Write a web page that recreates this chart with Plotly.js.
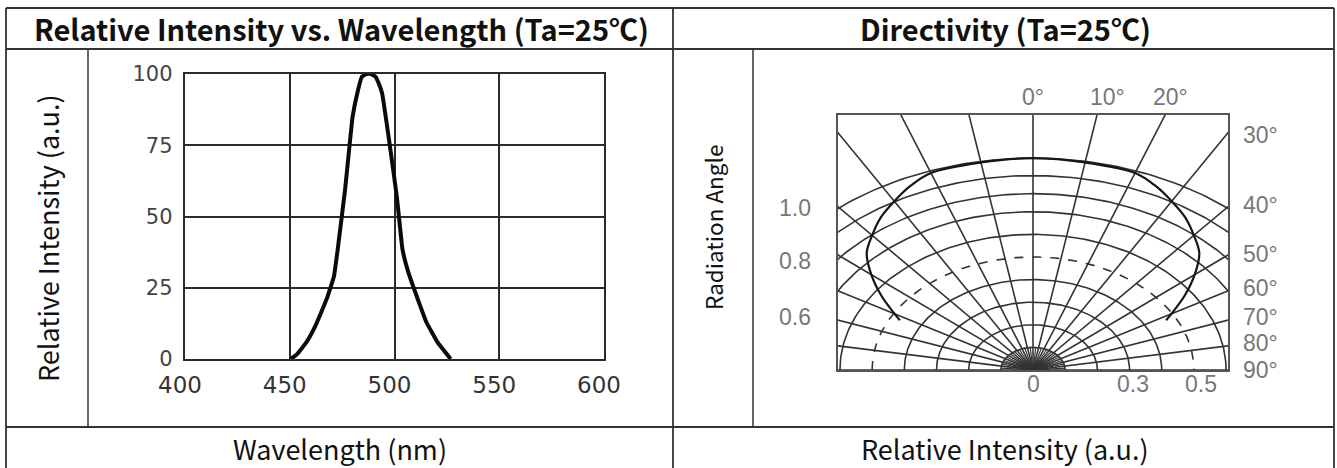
<!DOCTYPE html>
<html>
<head>
<meta charset="utf-8">
<script src="https://cdn.plot.ly/plotly-3.0.1.min.js"></script>
<style>html,body{margin:0;padding:0;background:#fff;}#chart{width:1337px;height:468px;}</style>
</head>
<body>
<div id="chart"></div>
<script>
// ---------- Spectrum data (Relative Intensity vs. Wavelength) ----------
const wavelength = [450.5, 453.5, 457.9, 462.3, 467.6, 471.1, 472.9, 476.4, 480.0, 482.6, 484.4, 486.5, 488.8, 491.0, 492.3, 494.1, 497.6, 501.1, 503.8, 506.4, 511.7, 515.3, 520.6, 526.8];
const spectrumIntensity = [0, 1.7, 5.8, 11.7, 21, 29, 38.5, 59.4, 85, 94.4, 99, 100, 100, 99, 97, 93.2, 75.8, 57, 38.5, 30.9, 19.8, 12.8, 5.8, 0];
const wavelengthTicks = [400, 450, 500, 550, 600];
const intensityTicks = [0, 25, 50, 75, 100];

// ---------- Directivity data ----------
const patternAngle = [0, 10, 20, 25, 30, 35, 40, 45, 50, 55, 60, 62];
const patternRel = [1.0, 0.995, 0.99, 0.96, 0.92, 0.88, 0.83, 0.78, 0.70, 0.615, 0.53, 0.50];
const patternPeak = 0.937;
const ringRadii = [0.1, 0.2, 0.3, 0.4, 0.6, 0.7, 0.78, 0.86, 0.937];
const dashedRing = 0.5;
const spokeAngles = [-90, -80, -70, -60, -50, -40, -30, -20, -10, 0, 10, 20, 30, 40, 50, 60, 70, 80, 90];
const fineSpokeAngles = [-85, -75, -65, -55, -45, -35, -25, -15, -5, 5, 15, 25, 35, 45, 55, 65, 75, 85];
const topAngleLabels = ['0°', '10°', '20°'];
const sideAngleLabels = ['30°', '40°', '50°', '60°', '70°', '80°', '90°'];
const leftValueLabels = ['1.0', '0.8', '0.6'];
const bottomValueLabels = ['0', '0.3', '0.5'];

// ---------- helpers ----------
const W = 1337, H = 468;
const px = x => x / W;
const py = y => 1 - y / H;
const rad = d => d * Math.PI / 180;

function spokes(angles, len) {
  const xs = [], ys = [];
  angles.forEach(a => { xs.push(0, len * Math.sin(rad(a)), null); ys.push(0, len * Math.cos(rad(a)), null); });
  return {xs, ys};
}
function ring(r) {
  const xs = [], ys = [];
  for (let a = -90; a <= 90; a += 1) { xs.push(r * Math.sin(rad(a))); ys.push(r * Math.cos(rad(a))); }
  return {xs, ys};
}

const gridCol = '#333';
const traces = [];
// spectrum
traces.push({x: wavelength, y: spectrumIntensity, type: 'scatter', mode: 'lines',
  line: {color: '#0a0a0a', width: 4, shape: 'spline', smoothing: 0.3}, xaxis: 'x', yaxis: 'y', hoverinfo: 'skip'});

// directivity grid
const sp = spokes(spokeAngles, 2);
traces.push({x: sp.xs, y: sp.ys, type: 'scatter', mode: 'lines', line: {color: gridCol, width: 1.6}, xaxis: 'x2', yaxis: 'y2', hoverinfo: 'skip'});
const fsp = spokes(fineSpokeAngles, 0.1);
traces.push({x: fsp.xs, y: fsp.ys, type: 'scatter', mode: 'lines', line: {color: gridCol, width: 1.2}, xaxis: 'x2', yaxis: 'y2', hoverinfo: 'skip'});
ringRadii.forEach(r => {
  const rg = ring(r);
  traces.push({x: rg.xs, y: rg.ys, type: 'scatter', mode: 'lines', line: {color: gridCol, width: 1.6}, xaxis: 'x2', yaxis: 'y2', hoverinfo: 'skip'});
});
const dr = ring(dashedRing);
traces.push({x: dr.xs, y: dr.ys, type: 'scatter', mode: 'lines', line: {color: gridCol, width: 1.6, dash: '9px,9px'}, xaxis: 'x2', yaxis: 'y2', hoverinfo: 'skip'});

// radiation pattern (symmetric)
const pa = [], pr = [];
for (let i = patternAngle.length - 1; i > 0; i--) { pa.push(-patternAngle[i]); pr.push(patternRel[i]); }
for (let i = 0; i < patternAngle.length; i++) { pa.push(patternAngle[i]); pr.push(patternRel[i]); }
traces.push({
  x: pa.map((a, i) => pr[i] * patternPeak * Math.sin(rad(a))),
  y: pa.map((a, i) => pr[i] * patternPeak * Math.cos(rad(a))),
  type: 'scatter', mode: 'lines', line: {color: '#151515', width: 2.2, shape: 'spline'}, xaxis: 'x2', yaxis: 'y2', hoverinfo: 'skip'});

// ---------- table lines ----------
const lc = '#333';
function hline(y, x0, x1, w) { return {type: 'line', xref: 'paper', yref: 'paper', x0: px(x0), x1: px(x1), y0: py(y), y1: py(y), line: {color: lc, width: w || 1.5}}; }
function vline(x, y0, y1, w) { return {type: 'line', xref: 'paper', yref: 'paper', x0: px(x), x1: px(x), y0: py(y0), y1: py(y1), line: {color: lc, width: w || 1.5}}; }
const shapes = [
  hline(8, 6, 1334, 2.2), hline(49, 6, 1334, 1.8), hline(427, 6, 1334, 1.8),
  vline(6, 8, 468, 1.8), vline(1334, 8, 468, 1.8), vline(673, 8, 468, 1.8),
  vline(88, 49, 427), vline(753, 49, 427)
];

// ---------- annotations ----------
const hdrFont = {family: 'Noto Sans CJK KR, Noto Sans, sans-serif', size: 29, color: '#111'};
const txtFont = {family: 'Noto Sans CJK KR, Noto Sans, sans-serif', size: 27, color: '#111'};
const sideFont = {family: 'Noto Sans CJK KR, Noto Sans, sans-serif', size: 22.5, color: '#111'};
const dirFont = {family: 'Liberation Sans, Arial, sans-serif', size: 23, color: '#777'};
const ann = [];
function A(text, x, y, font, extra) { ann.push(Object.assign({text, x: px(x), y: py(y), xref: 'paper', yref: 'paper', showarrow: false, font, xanchor: 'center', yanchor: 'middle'}, extra || {})); }
A('<b>Relative Intensity vs. Wavelength (Ta=25℃)</b>', 341, 28, hdrFont);
A('<b>Directivity (Ta=25℃)</b>', 1006, 28, hdrFont);
A('Wavelength (nm)', 340, 448, txtFont);
A('Relative Intensity (a.u.)', 1005, 448, txtFont);
A('Relative Intensity (a.u.)', 47, 238, txtFont, {textangle: -90});
A('Radiation Angle', 713, 228, sideFont, {textangle: -90});
const topX = [1033, 1107, 1170];
topAngleLabels.forEach((t, i) => A(t, topX[i], 97, dirFont));
const sideY = [135, 205, 254, 288, 317, 343, 370];
sideAngleLabels.forEach((t, i) => A(t, 1241, sideY[i], dirFont, {xanchor: 'left'}));
const leftY = [208, 261, 317];
leftValueLabels.forEach((t, i) => A(t, 795, leftY[i], dirFont));
const botX = [1033, 1133, 1201];
bottomValueLabels.forEach((t, i) => A(t, botX[i], 384, dirFont));

const axFont = {family: 'DejaVu Sans, sans-serif', size: 21, color: '#444'};
const layout = {
  width: W, height: H, margin: {l: 0, r: 0, t: 0, b: 0},
  paper_bgcolor: '#fff', plot_bgcolor: '#fff', showlegend: false,
  xaxis: {domain: [px(185), px(604)], range: [400, 600], tickvals: wavelengthTicks, ticks: '', showgrid: true, gridcolor: '#2a2a2a', gridwidth: 2,
    showline: true, mirror: true, linecolor: '#2a2a2a', linewidth: 2.2, zeroline: false, tickfont: Object.assign({}, axFont, {size: 23, color: '#333'}),
    ticklabelstandoff: 4, ticklabelshift: -5, anchor: 'y', fixedrange: true},
  yaxis: {domain: [py(359), py(74)], range: [0, 100], tickvals: intensityTicks, ticks: '', showgrid: true, gridcolor: '#2a2a2a', gridwidth: 2,
    showline: true, mirror: true, linecolor: '#2a2a2a', linewidth: 2.2, zeroline: false, tickfont: axFont, ticklabelstandoff: 6, anchor: 'x', fixedrange: true},
  xaxis2: {domain: [px(838), px(1228)], range: [-0.606, 0.606], showgrid: false, zeroline: false, showticklabels: false, ticks: '',
    showline: true, mirror: true, linecolor: '#555', linewidth: 1.8, anchor: 'y2', fixedrange: true},
  yaxis2: {domain: [py(370), py(115)], range: [0, 1.128], showgrid: false, zeroline: false, showticklabels: false, ticks: '',
    showline: true, mirror: true, linecolor: '#555', linewidth: 1.8, anchor: 'x2', fixedrange: true},
  shapes, annotations: ann
};
Plotly.newPlot('chart', traces, layout, {displayModeBar: false, staticPlot: true});
</script>
</body>
</html>
